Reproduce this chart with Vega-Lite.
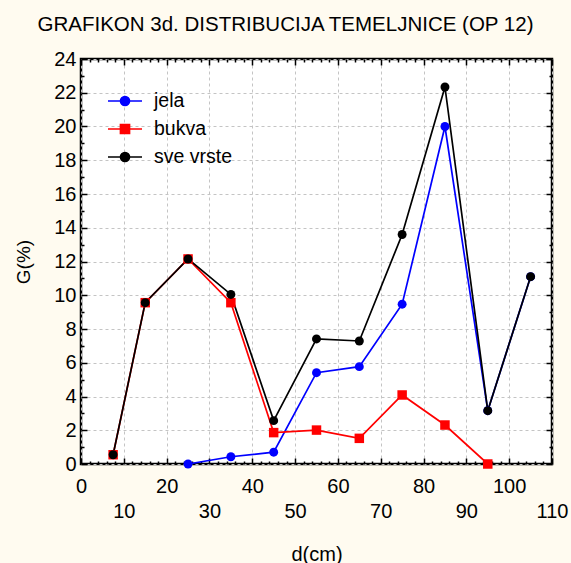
{
  "$schema": "https://vega.github.io/schema/vega-lite/v6.json",
  "width": 471,
  "height": 405,
  "autosize": {"type": "none"},
  "padding": {"left": 81, "top": 59, "right": 19, "bottom": 99},
  "background": "#FFFBF0",
  "title": {
    "text": "GRAFIKON 3d. DISTRIBUCIJA TEMELJNICE (OP 12)",
    "font": "Liberation Sans",
    "fontSize": 20.5,
    "fontWeight": "normal",
    "color": "#000000",
    "anchor": "middle",
    "frame": "group",
    "dx": -31,
    "offset": 14
  },
  "data": {
    "values": [
      {"d": 25, "vrsta": "jela", "g": 0},
      {"d": 35, "vrsta": "jela", "g": 0.43},
      {"d": 45, "vrsta": "jela", "g": 0.7},
      {"d": 55, "vrsta": "jela", "g": 5.41},
      {"d": 65, "vrsta": "jela", "g": 5.77},
      {"d": 75, "vrsta": "jela", "g": 9.47},
      {"d": 85, "vrsta": "jela", "g": 20.0},
      {"d": 95, "vrsta": "jela", "g": 3.16},
      {"d": 105, "vrsta": "jela", "g": 11.1},
      {"d": 7.5, "vrsta": "bukva", "g": 0.55},
      {"d": 15, "vrsta": "bukva", "g": 9.56},
      {"d": 25, "vrsta": "bukva", "g": 12.15},
      {"d": 35, "vrsta": "bukva", "g": 9.56},
      {"d": 45, "vrsta": "bukva", "g": 1.86},
      {"d": 55, "vrsta": "bukva", "g": 2.01},
      {"d": 65, "vrsta": "bukva", "g": 1.52},
      {"d": 75, "vrsta": "bukva", "g": 4.09},
      {"d": 85, "vrsta": "bukva", "g": 2.31},
      {"d": 95, "vrsta": "bukva", "g": 0},
      {"d": 7.5, "vrsta": "sve vrste", "g": 0.55},
      {"d": 15, "vrsta": "sve vrste", "g": 9.56},
      {"d": 25, "vrsta": "sve vrste", "g": 12.15},
      {"d": 35, "vrsta": "sve vrste", "g": 10.05},
      {"d": 45, "vrsta": "sve vrste", "g": 2.57},
      {"d": 55, "vrsta": "sve vrste", "g": 7.41},
      {"d": 65, "vrsta": "sve vrste", "g": 7.29},
      {"d": 75, "vrsta": "sve vrste", "g": 13.6},
      {"d": 85, "vrsta": "sve vrste", "g": 22.34},
      {"d": 95, "vrsta": "sve vrste", "g": 3.16},
      {"d": 105, "vrsta": "sve vrste", "g": 11.1}
    ]
  },
  "layer": [
    {
      "mark": {"type": "line", "strokeWidth": 1.7, "clip": true},
      "encoding": {
        "x": {
          "field": "d", "type": "quantitative",
          "scale": {"domain": [0, 110], "nice": false, "zero": false},
          "axis": {
            "orient": "bottom",
            "values": [0,2,4,6,8,10,12,14,16,18,20,22,24,26,28,30,32,34,36,38,40,42,44,46,48,50,52,54,56,58,60,62,64,66,68,70,72,74,76,78,80,82,84,86,88,90,92,94,96,98,100,102,104,106,108,110],
            "labelExpr": "datum.value % 20 == 0 ? datum.label : (datum.value % 20 == 10 ? ['', datum.label] : '')",
            "labelOverlap": false,
            "labelBound": false,
            "labelFlush": false,
            "labelBaseline": "top",
            "labelLineHeight": 25,
            "labelPadding": 18,
            "labelFont": "Liberation Sans",
            "labelFontSize": 20,
            "labelColor": "#000000",
            "domain": false,
            "ticks": true,
            "tickColor": "#000000",
            "tickWidth": 1.5,
            "tickSize": {"condition": {"test": "datum.value % 10 == 0", "value": -6}, "value": -3},
            "grid": true,
            "gridColor": "#c4c4c4",
            "gridDash": [3, 3],
            "gridWidth": 1,
            "gridOpacity": {"condition": {"test": "datum.value % 10 == 0", "value": 1}, "value": 0},
            "title": "d(cm)",
            "titleFont": "Liberation Sans",
            "titleFontSize": 20,
            "titleFontWeight": "normal",
            "titleColor": "#000000",
            "titleX": 235.5,
            "titleY": 90,
            "titleBaseline": "middle"
          }
        },
        "y": {
          "field": "g", "type": "quantitative",
          "scale": {"domain": [0, 24], "nice": false, "zero": true},
          "axis": {
            "orient": "left",
            "values": [0,1,2,3,4,5,6,7,8,9,10,11,12,13,14,15,16,17,18,19,20,21,22,23,24],
            "labelExpr": "datum.value % 2 == 0 ? datum.label : ''",
            "labelOverlap": false,
            "labelBound": false,
            "labelFlush": false,
            "labelPadding": 11,
            "labelFont": "Liberation Sans",
            "labelFontSize": 20,
            "labelColor": "#000000",
            "domain": false,
            "ticks": true,
            "tickColor": "#000000",
            "tickWidth": 1.5,
            "tickSize": {"condition": {"test": "datum.value % 2 == 0", "value": -6}, "value": -3},
            "grid": true,
            "gridColor": "#c4c4c4",
            "gridDash": [3, 3],
            "gridWidth": 1,
            "gridOpacity": {"condition": {"test": "datum.value % 2 == 0", "value": 1}, "value": 0},
            "title": "G(%)",
            "titleFont": "Liberation Sans",
            "titleFontSize": 19,
            "titleFontWeight": "normal",
            "titleColor": "#000000",
            "titleAngle": -90,
            "titleX": -58,
            "titleY": 202.5,
            "titleAlign": "center",
            "titleBaseline": "middle"
          }
        },
        "color": {
          "field": "vrsta", "type": "nominal",
          "scale": {"domain": ["jela", "bukva", "sve vrste"], "range": ["#0000FF", "#FF0000", "#000000"]},
          "legend": {
            "title": null,
            "orient": "none",
            "legendX": 33,
            "legendY": 31,
            "padding": 0,
            "symbolSize": 400,
            "symbolStrokeWidth": 1.7,
            "rowPadding": 7,
            "labelOffset": 18,
            "labelFont": "Liberation Sans",
            "labelFontSize": 19.5,
            "labelColor": "#000000",
            "encode": {
              "symbols": {
                "update": {
                  "shape": {"signal": "datum.value == 'bukva' ? 'M-1.7,0H1.7M-0.45,-0.45H0.45V0.45H-0.45Z' : 'M-1.7,0H1.7M-0.45,0A0.45,0.45 0 1,0 0.45,0A0.45,0.45 0 1,0 -0.45,0Z'"},
                  "fill": {"signal": "datum.value == 'jela' ? '#0000FF' : (datum.value == 'bukva' ? '#FF0000' : '#000000')"},
                  "stroke": {"signal": "datum.value == 'jela' ? '#0000FF' : (datum.value == 'bukva' ? '#FF0000' : '#000000')"},
                  "fillOpacity": {"value": 1},
                  "strokeOpacity": {"value": 1},
                  "strokeWidth": {"value": 1.7}
                }
              }
            }
          }
        }
      }
    },
    {
      "transform": [{"filter": "datum.vrsta == 'bukva'"}],
      "mark": {"type": "square", "opacity": 1, "size": 90, "clip": false},
      "encoding": {
        "x": {"field": "d", "type": "quantitative", "scale": {"domain": [0, 110], "nice": false, "zero": false}, "axis": null},
        "y": {"field": "g", "type": "quantitative", "scale": {"domain": [0, 24], "nice": false, "zero": true}, "axis": null},
        "color": {
          "field": "vrsta", "type": "nominal",
          "scale": {"domain": ["jela", "bukva", "sve vrste"], "range": ["#0000FF", "#FF0000", "#000000"]},
          "legend": null
        }
      }
    },
    {
      "transform": [{"filter": "datum.vrsta != 'bukva'"}],
      "mark": {"type": "circle", "opacity": 1, "size": 80, "clip": false},
      "encoding": {
        "x": {
          "field": "d", "type": "quantitative",
          "scale": {"domain": [0, 110], "nice": false, "zero": false},
          "axis": {
            "orient": "top",
            "values": [0,2,4,6,8,10,12,14,16,18,20,22,24,26,28,30,32,34,36,38,40,42,44,46,48,50,52,54,56,58,60,62,64,66,68,70,72,74,76,78,80,82,84,86,88,90,92,94,96,98,100,102,104,106,108,110],
            "labels": false,
            "domain": false,
            "grid": false,
            "tickColor": "#000000",
            "tickWidth": 1.5,
            "tickSize": {"condition": {"test": "datum.value % 10 == 0", "value": -6}, "value": -3},
            "title": null
          }
        },
        "y": {
          "field": "g", "type": "quantitative",
          "scale": {"domain": [0, 24], "nice": false, "zero": true},
          "axis": {
            "orient": "right",
            "values": [0,1,2,3,4,5,6,7,8,9,10,11,12,13,14,15,16,17,18,19,20,21,22,23,24],
            "labels": false,
            "domain": false,
            "grid": false,
            "tickColor": "#000000",
            "tickWidth": 1.5,
            "tickSize": {"condition": {"test": "datum.value % 2 == 0", "value": -6}, "value": -3},
            "title": null
          }
        },
        "color": {
          "field": "vrsta", "type": "nominal",
          "scale": {"domain": ["jela", "bukva", "sve vrste"], "range": ["#0000FF", "#FF0000", "#000000"]},
          "legend": null
        }
      }
    }
  ],
  "resolve": {"axis": {"x": "independent", "y": "independent"}},
  "config": {
    "view": {"stroke": "#000000", "strokeWidth": 2.5, "fill": "#FFFFFF"}
  }
}
